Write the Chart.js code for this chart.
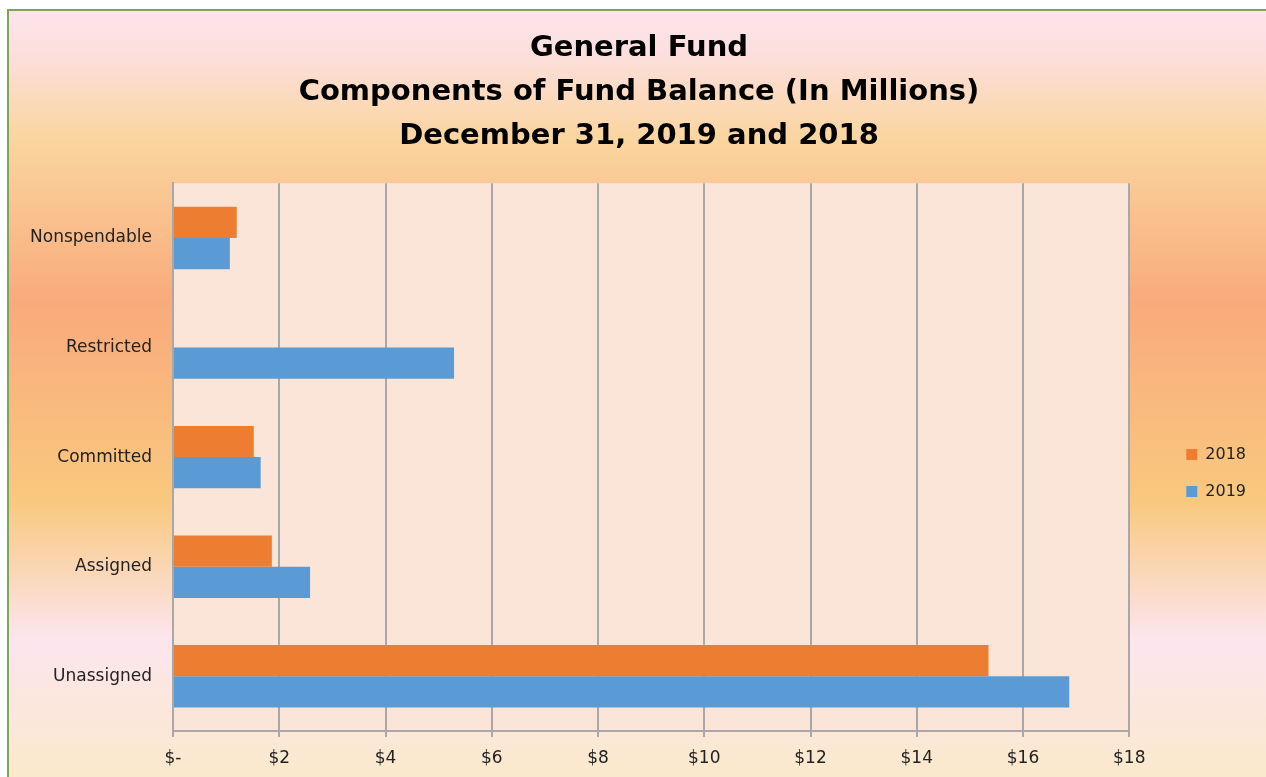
<!DOCTYPE html>
<html>
<head>
<meta charset="utf-8">
<script src="https://cdn.jsdelivr.net/npm/chart.js@4.4.1/dist/chart.umd.min.js"></script>
<style>
    html, body { margin: 0; padding: 0; background: #fff; overflow: hidden; }
    #wrap { position: absolute; left: 0; top: 0; width: 1266px; height: 777px; }
</style>
</head>
<body>
<div id="wrap"><canvas id="fund-chart"></canvas></div>
<script>
const CATEGORIES = ["Nonspendable", "Restricted", "Committed", "Assigned", "Unassigned"];
const VALUES_2018 = [1.2, 0, 1.52, 1.86, 15.35];
const VALUES_2019 = [1.07, 5.29, 1.65, 2.58, 16.87];
const SERIES_LABELS = ["2018", "2019"];
const TITLE_LINES = [
    "General Fund",
    "Components of Fund Balance (In Millions)",
    "December 31, 2019 and 2018",
];

const FONT = "'DejaVu Sans', sans-serif";

// fundo em degradê do quadro + área de plotagem
const backgroundPlugin = {
    id: "bg",
    beforeDraw(chart) {
        const { ctx, width, height, chartArea } = chart;
        ctx.save();
        ctx.fillStyle = "#ffffff";
        ctx.fillRect(0, 0, width, height);

        const g = ctx.createLinearGradient(0, 10, 0, height);
        g.addColorStop(0.00, "#fde4ec");
        g.addColorStop(0.06, "#fcdfdc");
        g.addColorStop(0.17, "#fad59e");
        g.addColorStop(0.38, "#f9aa7c");
        g.addColorStop(0.64, "#f9c87e");
        g.addColorStop(0.82, "#fce5ee");
        g.addColorStop(1.00, "#fbe9cc");
        ctx.fillStyle = g;
        ctx.fillRect(8, 10, width - 8, height - 10);

        ctx.strokeStyle = "#7aa65a";
        ctx.lineWidth = 2;
        ctx.beginPath();
        ctx.moveTo(8, height);
        ctx.lineTo(8, 10);
        ctx.lineTo(width, 10);
        ctx.stroke();

        ctx.fillStyle = "#fae5d8";
        ctx.fillRect(chartArea.left, chartArea.top, chartArea.right - chartArea.left, chartArea.bottom - chartArea.top);
        ctx.restore();
    }
};

const ctx = document.getElementById("fund-chart").getContext("2d");

new Chart(ctx, {
    type: "bar",
    data: {
        labels: CATEGORIES,
        datasets: [
            {
                label: SERIES_LABELS[0],
                data: VALUES_2018,
                backgroundColor: "#ed7d31",
                borderWidth: 0,
            },
            {
                label: SERIES_LABELS[1],
                data: VALUES_2019,
                backgroundColor: "#5b9bd5",
                borderWidth: 0,
            },
        ],
    },
    options: {
        indexAxis: "y",
        responsive: true,
        maintainAspectRatio: false,
        animation: false,
        categoryPercentage: 0.57,
        barPercentage: 1.0,
        layout: { padding: { left: 22, right: 10, top: 0, bottom: 0 } },
        plugins: {
            title: {
                display: true,
                text: TITLE_LINES,
                color: "#000",
                font: { family: FONT, size: 29, weight: "bold", lineHeight: 1.52 },
                padding: { top: 26, bottom: 25 },
            },
            legend: {
                position: "right",
                fullSize: false,
                title: {
                    display: true,
                    text: " ",
                    font: { size: 10, lineHeight: 1 },
                    padding: { top: 11, bottom: 11 },
                },
                labels: {
                    color: "#222",
                    boxWidth: 11,
                    boxHeight: 11,
                    padding: 21,
                    font: { family: FONT, size: 16 },
                },
            },
            tooltip: { enabled: false },
        },
        scales: {
            x: {
                min: 0,
                max: 18,
                ticks: {
                    stepSize: 2,
                    color: "#222",
                    padding: 11,
                    font: { family: FONT, size: 17 },
                    callback: val => val === 0 ? "$-" : `$${val}`,
                },
                grid: { color: "#a8a8a8", lineWidth: 2, tickLength: 6 },
                border: { color: "#a8a8a8", width: 2 },
                afterFit: s => { s.height = 46; },
            },
            y: {
                ticks: {
                    color: "#222",
                    padding: 21,
                    font: { family: FONT, size: 17 },
                },
                grid: { display: false, drawTicks: false },
                border: { color: "#a8a8a8", width: 2 },
                afterFit: s => { s.width = 151; },
            },
            gap: {
                type: "linear",
                position: "right",
                display: true,
                grid: { display: false },
                ticks: { display: false },
                border: { display: false },
                afterFit: s => { s.width = 36; },
            },
        },
    },
    plugins: [backgroundPlugin],
});
</script>
</body>
</html>
